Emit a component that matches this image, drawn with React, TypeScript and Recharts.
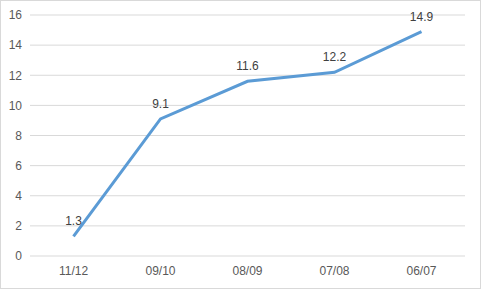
import React from "react";
import {
  LineChart,
  Line,
  XAxis,
  YAxis,
  CartesianGrid,
  LabelList,
} from "recharts";

const seasons = ["11/12", "09/10", "08/09", "07/08", "06/07"];
const values = [1.3, 9.1, 11.6, 12.2, 14.9];
const yTicks = [0, 2, 4, 6, 8, 10, 12, 14, 16];

const data = seasons.map((season, i) => ({ season, value: values[i] }));

const FONT = "'Liberation Sans', Arial, sans-serif";

export default function App() {
  return (
    <div
      style={{
        position: "absolute",
        left: 0,
        top: 0,
        width: 481,
        height: 289,
        background: "#fff",
        fontFamily: FONT,
      }}
    >
      <LineChart
        width={481}
        height={289}
        data={data}
        margin={{ top: 15, right: 16, bottom: 0, left: 0 }}
      >
        <CartesianGrid vertical={false} stroke="#d9d9d9" strokeWidth={1} />
        <XAxis
          dataKey="season"
          height={33}
          axisLine={false}
          tickLine={false}
          tickMargin={4}
          padding={{ left: 43.5, right: 43.5 }}
          tick={{ fill: "#595959", fontSize: 12, fontFamily: FONT }}
        />
        <YAxis
          width={30}
          domain={[0, 16]}
          ticks={yTicks}
          axisLine={false}
          tickLine={false}
          tick={{ fill: "#595959", fontSize: 12, fontFamily: FONT }}
        />
        {/* single series, labels sit above each point */}
        <Line
          type="linear"
          dataKey="value"
          stroke="#5b9bd5"
          strokeWidth={3}
          dot={false}
          isAnimationActive={false}
        >
          <LabelList
            dataKey="value"
            position="top"
            offset={11}
            fill="#404040"
            fontSize={12}
            fontFamily={FONT}
          />
        </Line>
      </LineChart>
      <div
        style={{
          position: "absolute",
          left: 0,
          top: 0,
          width: 481,
          height: 289,
          boxSizing: "border-box",
          border: "1px solid #d9d9d9",
          pointerEvents: "none",
        }}
      />
    </div>
  );
}
